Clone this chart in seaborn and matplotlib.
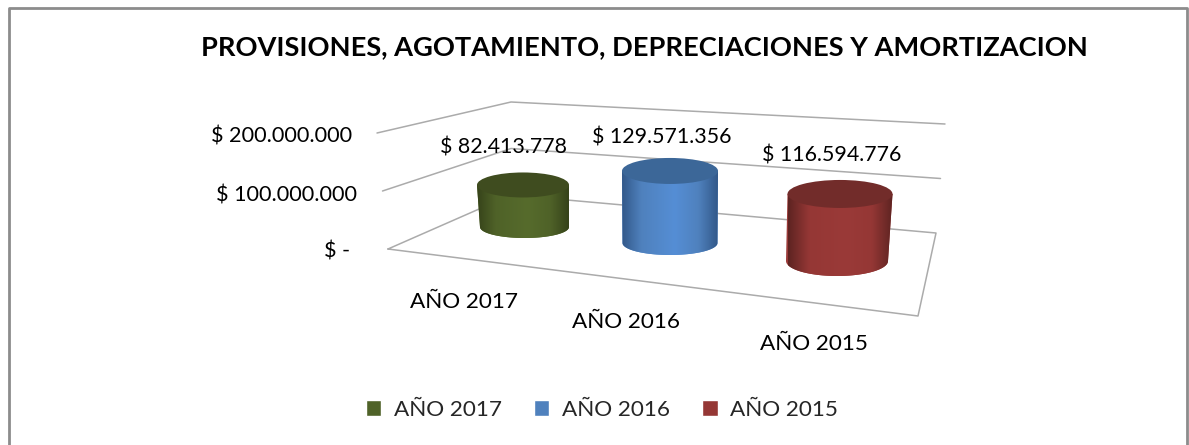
import numpy as np
import pandas as pd
import matplotlib
matplotlib.use("Agg")
import matplotlib.pyplot as plt
import seaborn as sns
from matplotlib.colors import LinearSegmentedColormap
from matplotlib.patches import Ellipse, PathPatch
from matplotlib.path import Path

# chart values
years = ["AÑO 2017", "AÑO 2016", "AÑO 2015"]
values = [82413778, 129571356, 116594776]
axis_ticks = [0, 100000000, 200000000]
title = "PROVISIONES, AGOTAMIENTO, DEPRECIACIONES Y AMORTIZACION"

# colours
bar_colors = ["#4f6228", "#4f81bd", "#953735"]
edge_colors = ["#36431a", "#33598a", "#5e2422"]
mid_colors = ["#566b2c", "#558ed5", "#9a3a38"]
top_colors = ["#3f4c1f", "#3c6798", "#722c2a"]

# layout of the fake 3d box, in picture pixels
W, H = 1189, 445
PX_PER_UNIT = 0.55e-6
centers = [523, 670, 840]
widths = [92, 96, 105]
bottom_centers = [524.5, 670, 837]
bottom_widths = [89, 95, 102]
bases = [227, 243, 261]
persp = [0.51, 0.556, 0.575]  # px per million, changes with depth
top_ry = [12.5, 13, 14]
bottom_ry = [11, 12, 15]
floor_corners = {"fl": (388, 249), "bl": (511, 195), "br": (936, 233), "fr": (918, 316)}
grid_rate = {"fl": 0.58, "bl": 0.465, "br": 0.545}
tick_label_pos = [(350, 252), (357, 195.5), (352, 136.5)]
value_label_pos = [(504, 148), (662, 137), (832, 156)]
cat_label_pos = [(464, 302), (626, 321.5), (814, 344.5)]


def py(pixel):
    # picture row -> y axis value
    return (H - pixel) / PX_PER_UNIT


def money(v):
    return "$ " + f"{v:,.0f}".replace(",", ".")


sns.set_theme(style="white")
plt.rcParams["font.family"] = ["Lato", "DejaVu Sans"]

fig = plt.figure(figsize=(W / 100, H / 100), dpi=100)
ax = fig.add_axes([0, 0, 1, 1])

df = pd.DataFrame({"pos": centers, "year": years, "value": values})
sns.barplot(data=df, x="pos", y="value", hue="year", hue_order=years, palette=bar_colors,
            native_scale=True, dodge=False, width=0.5, saturation=1, ax=ax)

# chart frame, no bottom line in the reference
ax.plot([8.5, 8.5, 1187, 1187], [py(H), py(8), py(8), py(H)], color="#8c8c8c", lw=2, zorder=1)

# floor and back walls
fl, bl, br, fr = [floor_corners[k] for k in ["fl", "bl", "br", "fr"]]
grid_color = "#ababab"
ax.plot([fl[0], bl[0], br[0], fr[0], fl[0]], [py(p) for p in [fl[1], bl[1], br[1], fr[1], fl[1]]],
        color=grid_color, lw=1.1, zorder=1)
for t in axis_ticks[1:]:
    xs = [fl[0] - 11 * t / 2e8, bl[0], br[0] + 9 * t / 2e8]
    ys = [fl[1] - grid_rate["fl"] * t / 1e6, bl[1] - grid_rate["bl"] * t / 1e6, br[1] - grid_rate["br"] * t / 1e6]
    ax.plot(xs, [py(y) for y in ys], color=grid_color, lw=1.1, zorder=1)

# bars from seaborn moved on the floor, then shaded like cylinders
bars = [p for c in ax.containers for p in c]
for i, bar in enumerate(bars):
    h = values[i] * persp[i] * 1e-6 / PX_PER_UNIT
    bar.set_x(centers[i] - widths[i] / 2)
    bar.set_width(widths[i])
    bar.set_y(py(bases[i]))
    bar.set_height(h)
    bar.set_visible(False)

    x0, x1 = centers[i] - widths[i] / 2, centers[i] + widths[i] / 2
    y_bot = py(bases[i])
    y_top = y_bot + h
    ry_b = bottom_ry[i] / PX_PER_UNIT
    ry_t = top_ry[i] / PX_PER_UNIT

    # side wall outline, lower half ellipse
    t = np.linspace(np.pi, 2 * np.pi, 60)
    xs = bottom_centers[i] + bottom_widths[i] / 2 * np.cos(t)
    ys = y_bot + ry_b * np.sin(t)
    verts = [(x0, y_top)] + list(zip(xs, ys)) + [(x1, y_top), (x0, y_top)]
    codes = [Path.MOVETO] + [Path.LINETO] * (len(verts) - 1)
    side = PathPatch(Path(verts, codes), facecolor=mid_colors[i], edgecolor="none", zorder=3)
    ax.add_patch(side)

    cmap = LinearSegmentedColormap.from_list(
        "c", [(0, edge_colors[i]), (0.2, bar_colors[i]), (0.55, mid_colors[i]), (0.8, bar_colors[i]), (1, edge_colors[i])])
    img = ax.imshow(np.linspace(0, 1, 200).reshape(1, -1), cmap=cmap, aspect="auto", zorder=3.1,
                    extent=[x0, x1, y_bot - ry_b, y_top], interpolation="bilinear")
    img.set_clip_path(side)

    ax.add_patch(Ellipse((centers[i], y_top), widths[i], 2 * ry_t, facecolor=top_colors[i],
                         edgecolor="none", zorder=4))

    ax.text(value_label_pos[i][0], py(value_label_pos[i][1]), money(values[i]), ha="center", va="center",
            fontsize=15.4, color="black", zorder=5)
    ax.text(cat_label_pos[i][0], py(cat_label_pos[i][1]), years[i], ha="center", va="center",
            fontsize=16.2, color="black", zorder=5)

for t, (x, y) in zip(axis_ticks, tick_label_pos):
    ax.text(x, py(y), money(t) if t else "$ -", ha="right", va="center", fontsize=15.6, color="black")

ax.text(644, py(47), title, ha="center", va="center", fontsize=19.6, fontweight="bold", color="black")

ax.set_xlim(0, W)
ax.set_ylim(0, H / PX_PER_UNIT)
ax.set_xlabel("")
ax.set_ylabel("")
ax.set_xticks([])
ax.set_yticks([])
sns.despine(ax=ax, left=True, bottom=True)

sns.move_legend(ax, "center", bbox_to_anchor=(602 / W, 1 - 410 / H), ncol=3, frameon=False, title=None,
                fontsize=16.2, handlelength=0.68, handleheight=0.68, handletextpad=0.55, columnspacing=1.45)

fig.savefig("out.png", dpi=100, facecolor="white")
